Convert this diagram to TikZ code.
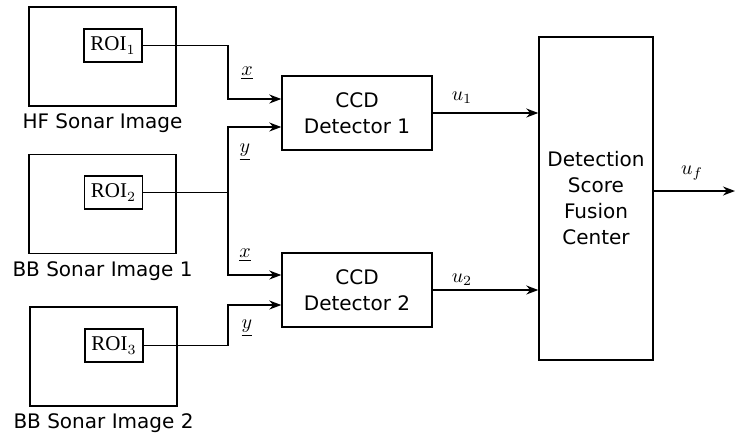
\documentclass[tikz,border=0pt]{standalone}
\usepackage{fontspec}
\setmainfont{DejaVu Sans}
\newfontfamily\roifont{Liberation Serif}
\usetikzlibrary{arrows.meta,positioning,calc}

\begin{document}
\begin{tikzpicture}[>={Stealth[length=6pt,width=4.5pt]},x=0.5pt,y=-0.5pt,line width=0.7pt,font=\fontsize{10}{13}\selectfont]
\tikzstyle{img}=[rectangle,draw,minimum width=73.5pt,minimum height=49.5pt]
\tikzstyle{roi}=[rectangle,draw,minimum width=29pt,minimum height=16.5pt,inner sep=1pt,font=\roifont\fontsize{10.5}{12}\selectfont]
\tikzstyle{det}=[rectangle,draw,minimum width=75pt,minimum height=37pt,align=center]
\tikzstyle{lbl}=[inner sep=1pt]
\useasboundingbox (0,0) rectangle (735,435);
% sonar images and their ROIs
\node[img] (hf) at (102.5,56.5) {};
\node[img] (bb1) at (102.5,204) {};
\node[img] (bb2) at (103.5,356.5) {};
\node[below=0pt of hf] (hft) {HF Sonar Image};
\node[below=0pt of bb1] (bb1t) {BB Sonar Image 1};
\node[below=0pt of bb2] (bb2t) {BB Sonar Image 2};
\node[roi] (roi1) at (113,45.5) {ROI$_1$};
\node[roi] (roi2) at (113.5,192.5) {ROI$_2$};
\node[roi] (roi3) at (114,345.5) {ROI$_3$};
% detectors and fusion
\node[det] (ccd1) at (357,113) {CCD\\Detector 1};
\node[det] (ccd2) at (357,290) {CCD\\Detector 2};
\node[det,minimum width=57pt,minimum height=161.5pt] (fus) at (596,198.5) {Detection\\Score\\Fusion\\Center};
\coordinate (bus) at (228,0);
\coordinate (c1a) at ($(ccd1.west)+(0,-14)$);
\coordinate (c1b) at ($(ccd1.west)+(0,14)$);
\coordinate (c2a) at ($(ccd2.west)+(0,-15)$);
\coordinate (c2b) at ($(ccd2.west)+(0,15)$);
\coordinate (out) at (735,191);
\draw[->] (roi1.east) -| (bus |- c1a) -- (c1a);
\draw (roi2.east) -- (bus |- roi2);
\draw[->] (bus |- roi2) |- (c1b);
\draw[->] (bus |- roi2) |- (c2a);
\draw[->] (roi3.east) -| (bus |- c2b) -- (c2b);
\draw[->] (ccd1.east) -- (ccd1.east -| fus.west);
\draw[->] (ccd2.east) -- (ccd2.east -| fus.west);
\draw[->] (fus.east |- out) -- (out);
% signal labels
\node[lbl] (x1) at (247,73) {$\underline{x}$};
\node[lbl] (y1) at (245,152) {$\underline{y}$};
\node[lbl] (x2) at (245,255) {$\underline{x}$};
\node[lbl] (y2) at (247,328) {$\underline{y}$};
\node[lbl] (u1) at (462,98) {$u_1$};
\node[lbl] (u2) at (462,280) {$u_2$};
\node[lbl] (uf) at (692,173) {$u_f$};
\end{tikzpicture}
\end{document}
